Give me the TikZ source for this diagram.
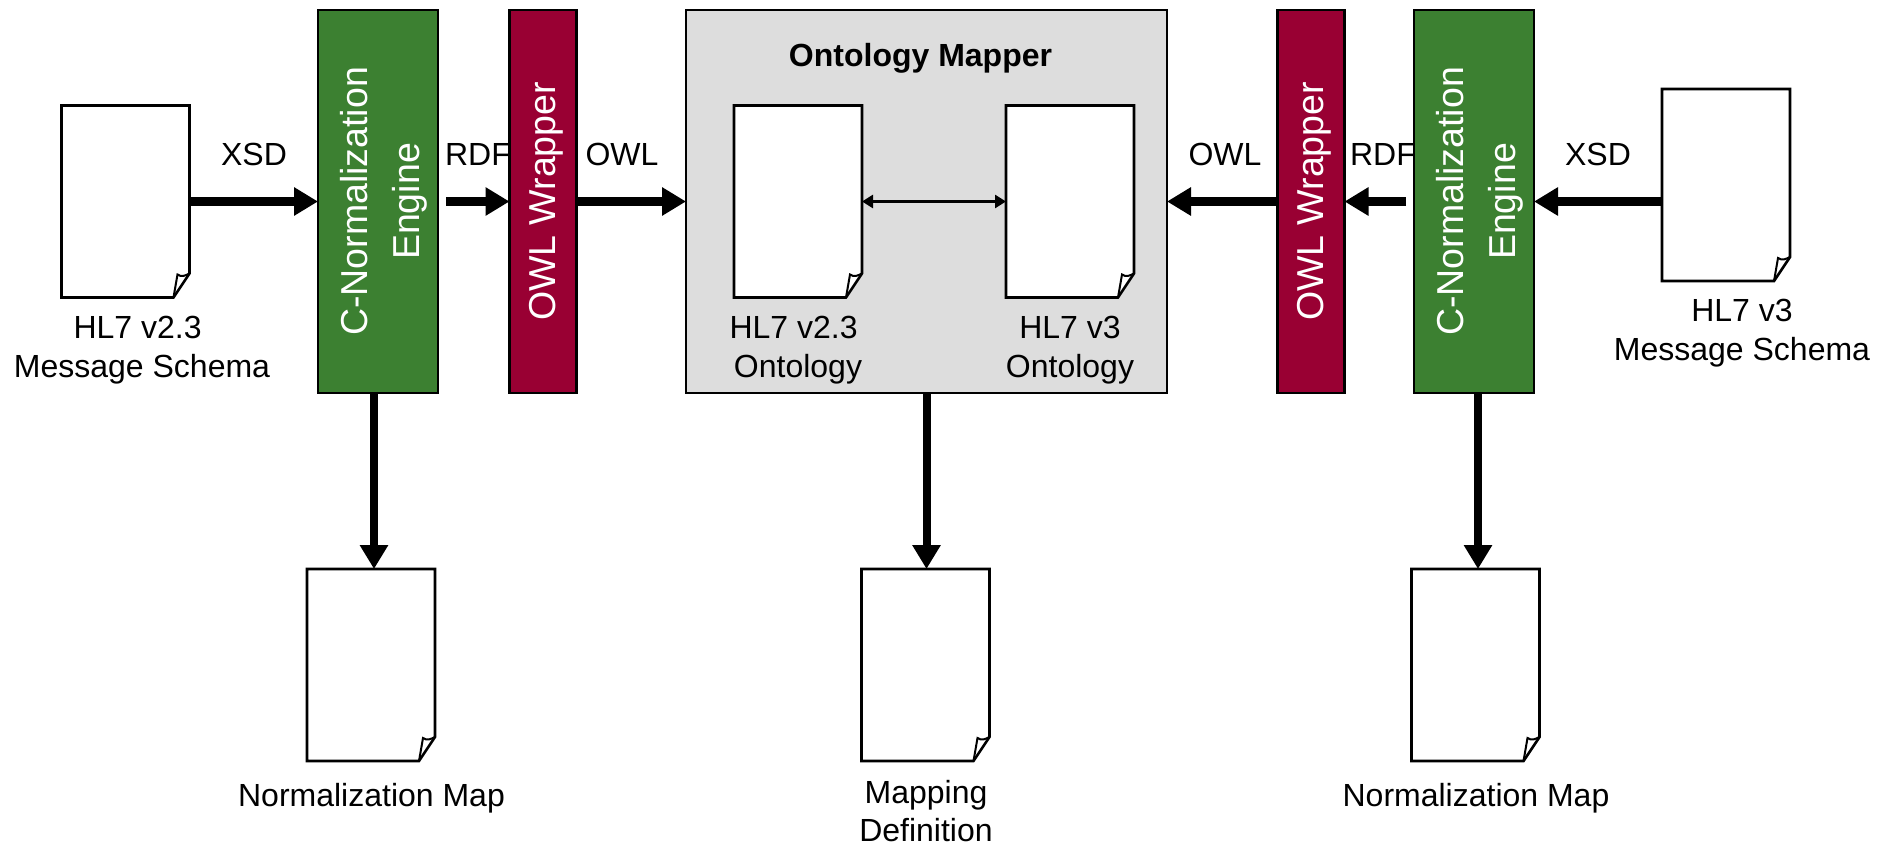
\documentclass[tikz,border=0pt]{standalone}
\usepackage{graphicx}
\usepackage{fontspec}
\setmainfont{Liberation Sans}
\usetikzlibrary{arrows.meta}
\definecolor{engine}{HTML}{3C8031}
\definecolor{wrapper}{HTML}{990033}
\definecolor{mapper}{HTML}{DDDDDD}
\newcommand\paperdoc[3]{%
  \node[docbase] (#1) at (#2,#3) {};
  \draw[docline,fill=white] (#1.north west) -- (#1.north east)
    -- ([yshift=24pt]#1.south east) -- ([xshift=-16pt]#1.south east)
    -- (#1.south west) -- cycle;
  \draw[docline,line width=2pt] ([xshift=-16pt]#1.south east) -- ([xshift=-12pt,yshift=23pt]#1.south east)
    .. controls ([xshift=-8pt,yshift=20pt]#1.south east) and ([xshift=-4pt,yshift=22pt]#1.south east) .. ([yshift=24pt]#1.south east);
}
\newcommand\vtext[2]{\hspace*{#1}\rotatebox{90}{\begin{tabular}{@{}c@{}}#2\end{tabular}}}
\tikzset{
  docbase/.style={rectangle,minimum width=128pt,minimum height=192pt,inner sep=0pt,outer sep=0pt},
  docline/.style={draw=black,line width=2.6pt,line join=miter},
  caption/.style={align=center,inner sep=0pt,font=\fontsize{32}{38.5}\selectfont},
  tall/.style={rectangle,draw=black,line width=2.8pt,minimum height=383pt,inner sep=0pt,outer sep=0pt,text=white,font=\fontsize{37.5}{52}\selectfont},
  enginebox/.style={tall,fill=engine,minimum width=120pt},
  wrapperbox/.style={tall,fill=wrapper,minimum width=67pt},
  mapperbox/.style={rectangle,draw=black,line width=2.8pt,fill=mapper,minimum width=481pt,minimum height=383pt,inner sep=0pt,outer sep=0pt},
  flow/.style={line width=8pt,-{Triangle[length=24pt,width=27pt]}},
  link/.style={line width=2.6pt,{Triangle[length=11pt,width=13pt]}-{Triangle[length=11pt,width=13pt]}}
}
\begin{document}
\begin{tikzpicture}[x=1pt,y=-1pt]
\useasboundingbox (0,0) rectangle (1886,845);
% labels lie beneath the boxes
\node[caption] (lxsd) at (254,154) {XSD};
\node[caption] (lrdf) at (478,154) {RDF};
\node[caption] (lowl) at (622,154) {OWL};
\node[caption] (rowl) at (1225,154) {OWL};
\node[caption] (rrdf) at (1383,154) {RDF};
\node[caption] (rxsd) at (1598,154) {XSD};
% boxes
\node[enginebox] (gl) at (378,201.5) {\vtext{10pt}{C-Normalization\\Engine}};
\node[wrapperbox] (wl) at (543,201.5) {\vtext{4pt}{OWL Wrapper}};
\node[mapperbox] (map) at (926.5,201.5) {};
\node[wrapperbox] (wr) at (1311,201.5) {\vtext{4pt}{OWL Wrapper}};
\node[enginebox] (gr) at (1474,201.5) {\vtext{10pt}{C-Normalization\\Engine}};
\node[font=\fontsize{32}{38}\selectfont\bfseries,inner sep=0pt] (title) at (920.5,58) {Ontology Mapper};
% documents
\paperdoc{dl}{125.5}{201.5}
\paperdoc{ma}{798}{201.5}
\paperdoc{mb}{1070}{201.5}
\paperdoc{dr}{1726}{185}
\paperdoc{bl}{371}{665}
\paperdoc{bm}{925.5}{665}
\paperdoc{br}{1475.5}{665}
% captions
\node[caption] (cdl) at (142,350) {HL7 v2.3\hspace*{.278em}\\Message Schema};
\node[caption] (cma) at (798,350) {HL7 v2.3\hspace*{.278em}\\Ontology};
\node[caption] (cmb) at (1070,350) {HL7 v3\\Ontology};
\node[caption] (cdr) at (1742,333) {HL7 v3\\Message Schema};
\node[caption] (cbl) at (371.5,798) {Normalization Map};
\node[caption] (cbm) at (926,811) {Mapping\\Definition};
\node[caption] (cbr) at (1476,798) {Normalization Map};
% connector free ends and guides
\coordinate (rdfl) at (446,201.5);
\coordinate (rdfr) at (1406,201.5);
\coordinate (dnl) at (374,569);
\coordinate (dnr) at (1478,569);
% connectors
\draw[flow] (dl.east) -- (gl.west);
\draw[flow] (rdfl) -- (wl.west);
\draw[flow] (wl.east) -- (map.west);
\draw[flow] (wr.west) -- (map.east);
\draw[flow] (rdfr) -- (wr.east);
\draw[flow] (dr.west |- gr.east) -- (gr.east);
\draw[flow] (gl.south -| dnl) -- (dnl);
\draw[flow] (map.south) -- (map.south |- bm.north);
\draw[flow] (gr.south -| dnr) -- (dnr);
\draw[link] (ma.east) -- (mb.west);
\end{tikzpicture}
\end{document}
